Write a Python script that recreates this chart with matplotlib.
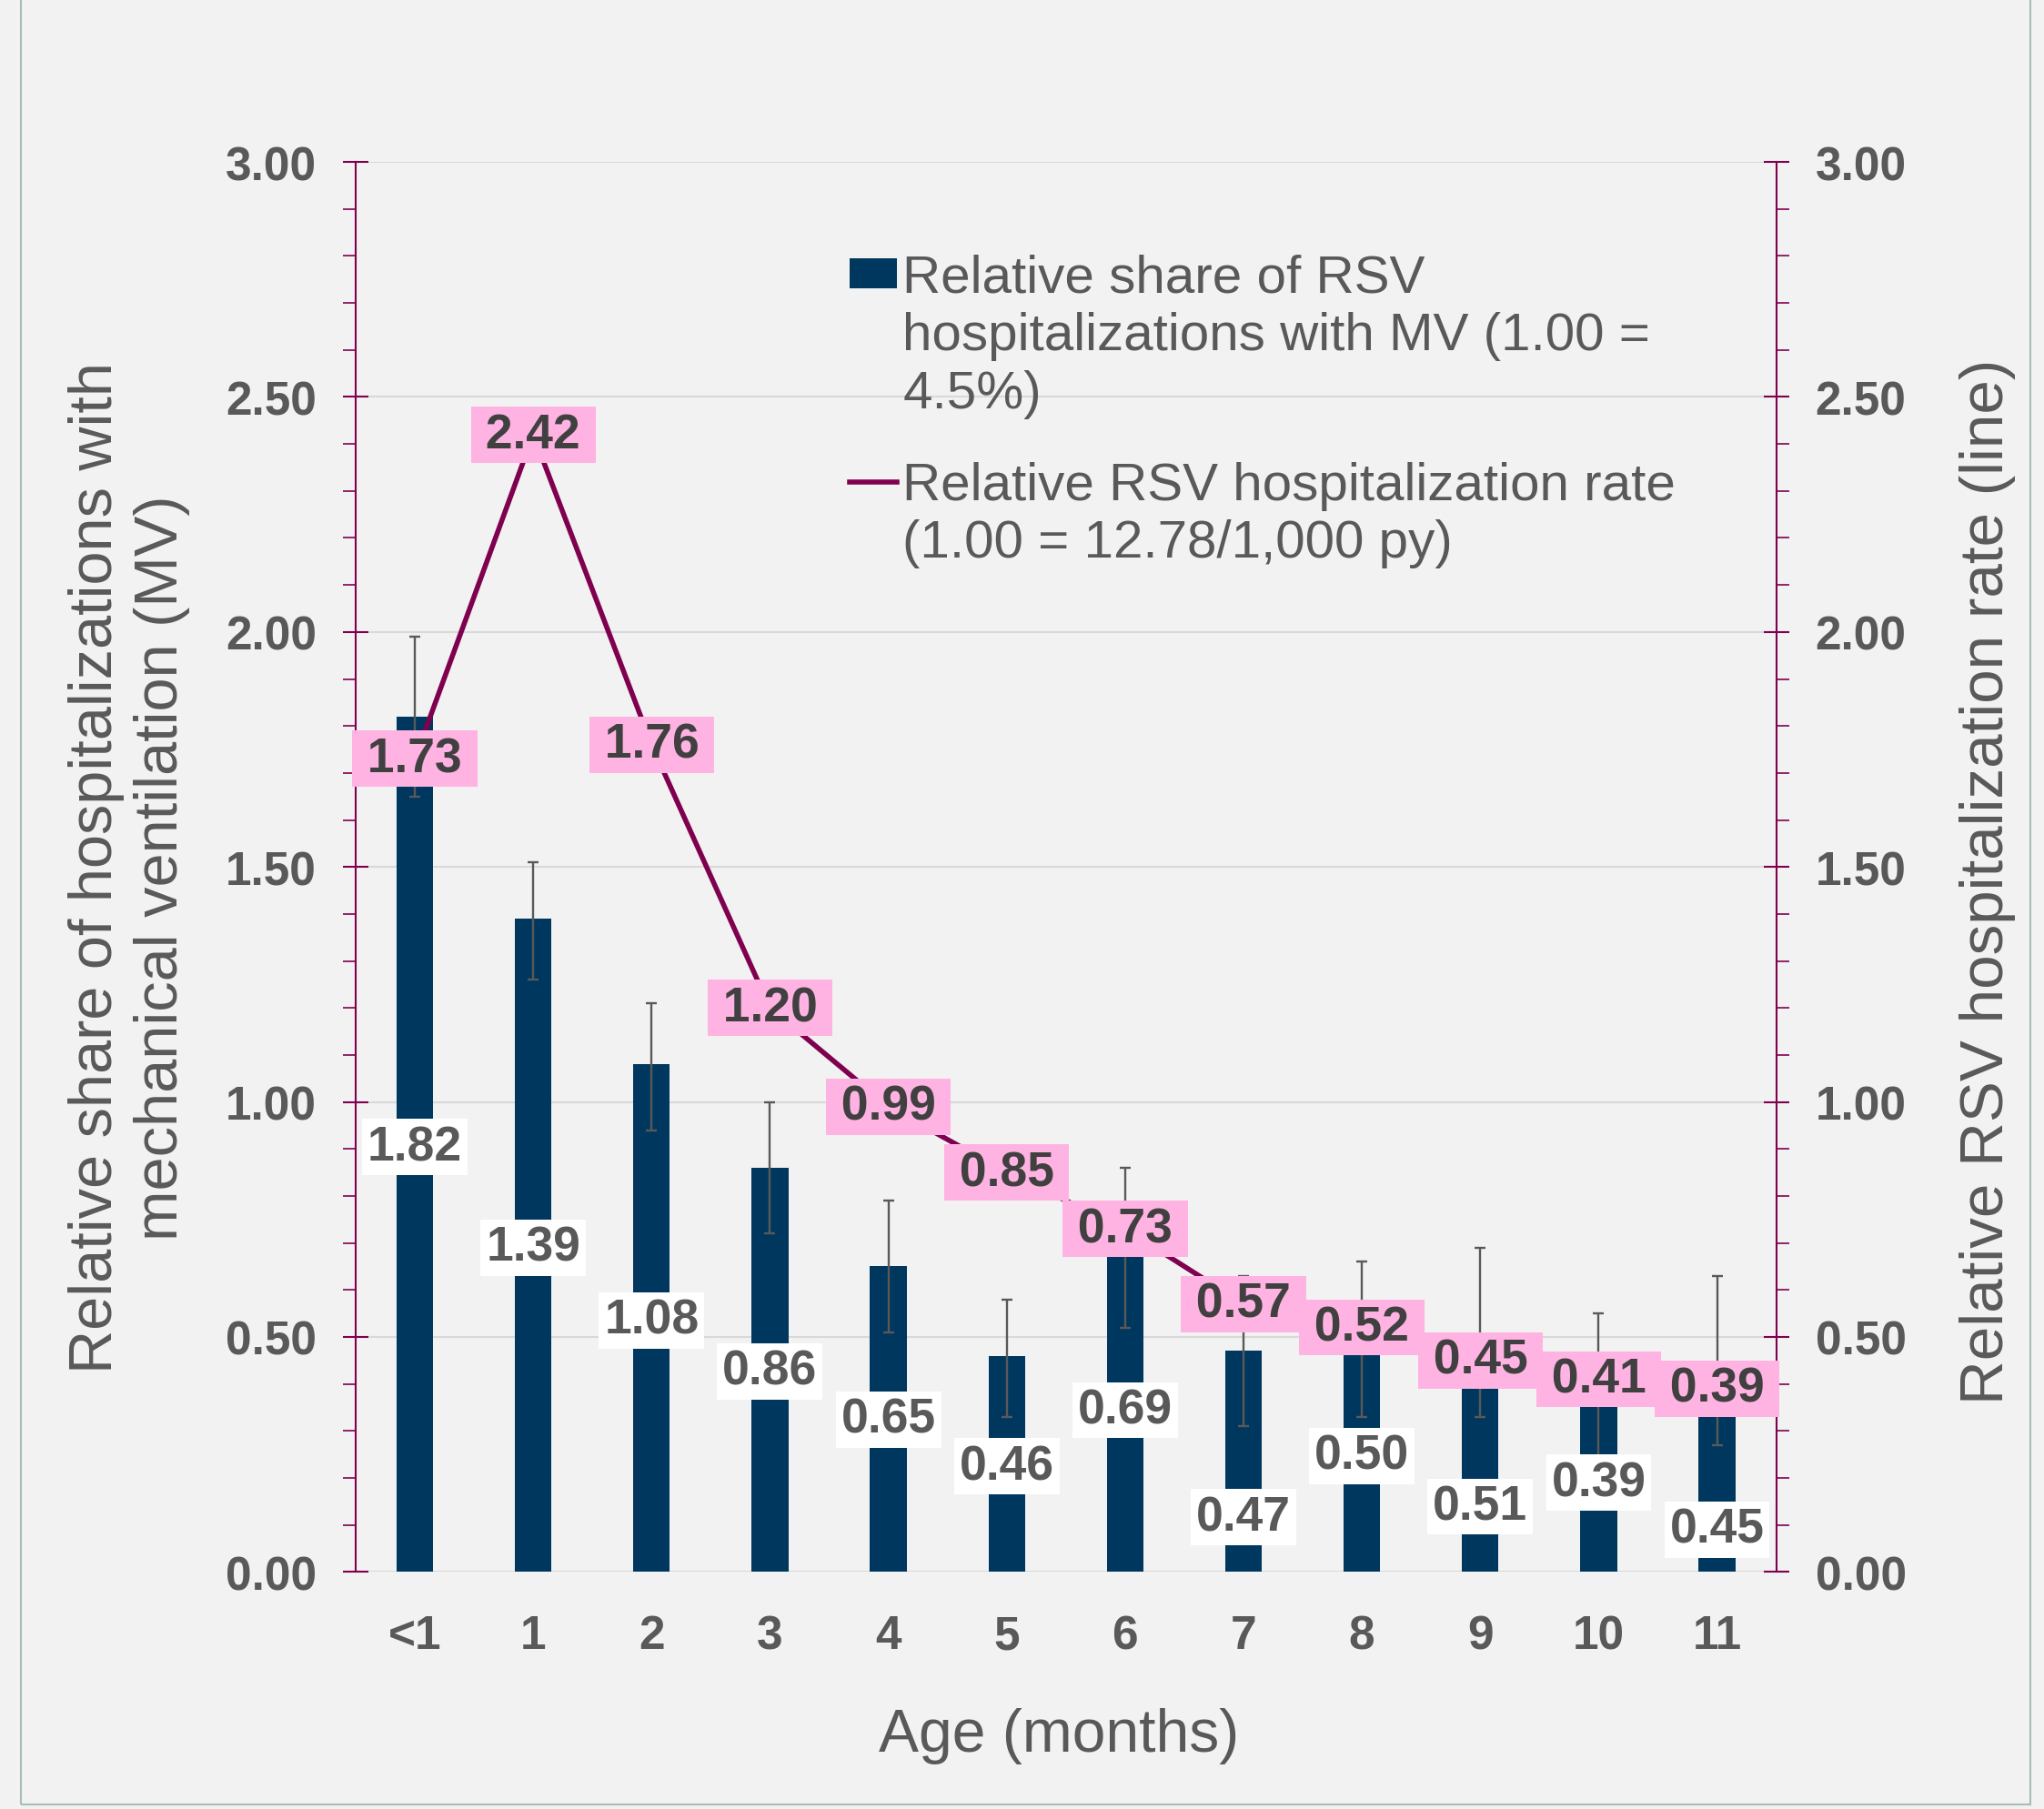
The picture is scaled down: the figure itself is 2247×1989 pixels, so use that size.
import numpy as np
import matplotlib
matplotlib.use('Agg')
import matplotlib.pyplot as plt
from matplotlib.patches import Rectangle
from matplotlib.lines import Line2D
from matplotlib.ticker import MultipleLocator

plt.rcParams['font.family'] = ['Liberation Sans', 'DejaVu Sans']

# data
ages = ['<1', '1', '2', '3', '4', '5', '6', '7', '8', '9', '10', '11']
mv_share = [1.82, 1.39, 1.08, 0.86, 0.65, 0.46, 0.69, 0.47, 0.50, 0.51, 0.39, 0.45]
ci_low = [1.65, 1.26, 0.94, 0.72, 0.51, 0.33, 0.52, 0.31, 0.33, 0.33, 0.23, 0.27]
ci_high = [1.99, 1.51, 1.21, 1.00, 0.79, 0.58, 0.86, 0.63, 0.66, 0.69, 0.55, 0.63]
hosp_rate = [1.73, 2.42, 1.76, 1.20, 0.99, 0.85, 0.73, 0.57, 0.52, 0.45, 0.41, 0.39]

# where the white bar labels sit (some were moved by hand in the original)
bar_label_y = [0.904, 0.69, 0.535, 0.427, 0.324, 0.225, 0.344, 0.116, 0.247, 0.139, 0.19, 0.09]

bg = '#f2f2f2'
navy = '#00375f'
mag = '#800050'
pink = '#ffb3e2'
grey = '#595959'

fig = plt.figure(figsize=(22.47, 19.90), dpi=100, facecolor=bg)
ax = fig.add_axes([0.174, 0.131, 0.695, 0.779])
ax.set_facecolor(bg)
ax2 = ax.twinx()

x = np.arange(len(ages))
bars = ax.bar(x, mv_share, width=0.31, color=navy, zorder=2)
yerr = [np.array(mv_share) - np.array(ci_low), np.array(ci_high) - np.array(mv_share)]
ax.errorbar(x, mv_share, yerr=yerr, fmt='none', ecolor=grey, elinewidth=1.7,
            capsize=4, capthick=1.7, zorder=3)

for xi, v, ly in zip(x, mv_share, bar_label_y):
    ax.text(xi, ly, f'{v:.2f}', ha='center', va='center', fontsize=38.5,
            fontweight='bold', color=grey, zorder=5,
            bbox=dict(boxstyle='square,pad=0.11', fc='white', ec='none'))

line, = ax2.plot(x, hosp_rate, color=mag, lw=4, zorder=2)
for xi, v in zip(x, hosp_rate):
    ax2.text(xi, v, '\u2009' + f'{v:.2f}' + '\u2009', ha='center', va='center',
             fontsize=38.5, fontweight='bold', color='#404040', zorder=5,
             bbox=dict(boxstyle='square,pad=0.11', fc=pink, ec='none'))

for a in (ax, ax2):
    a.set_xlim(-0.5, 11.5)
    a.set_ylim(0, 3)
    a.yaxis.set_major_locator(MultipleLocator(0.5))
    a.yaxis.set_minor_locator(MultipleLocator(0.1))
    a.set_yticks(np.arange(0, 3.01, 0.5), labels=[f'{t:.2f}' for t in np.arange(0, 3.01, 0.5)],
                 fontweight='bold')
    a.tick_params(axis='y', which='major', direction='inout', length=20, width=1.5,
                  color=mag, labelsize=37, labelcolor=grey, pad=21)
    a.tick_params(axis='y', which='minor', direction='out', length=10, width=1.2, color=mag)
    for s in a.spines.values():
        s.set_visible(False)

ax.spines['left'].set_visible(True)
ax.spines['left'].set_color(mag)
ax.spines['left'].set_linewidth(1.5)
ax2.spines['right'].set_visible(True)
ax2.spines['right'].set_color(mag)
ax2.spines['right'].set_linewidth(1.5)

ax.set_xticks(x, labels=ages, fontweight='bold')
ax.tick_params(axis='x', length=0, labelsize=37, labelcolor=grey, pad=33)
ax2.tick_params(axis='x', length=0)

ax.yaxis.grid(True, which='major', color='#d9d9d9', lw=1.5, zorder=0)
ax.set_axisbelow(True)

fig.text(0.0632, 0.5204, 'Relative share of hospitalizations with\nmechanical ventilation (MV)',
         rotation=90, ha='center', va='center', fontsize=48, color=grey, linespacing=1.2)
fig.text(0.9724, 0.513, 'Relative RSV hospitalization rate (line)',
         rotation=90, ha='center', va='center', fontsize=48.5, color=grey)
fig.text(0.518, 0.0407, 'Age (months)', ha='center', va='center', fontsize=47.5, color=grey)

# legend, one row per text line so the key sits on the first line
blank = Rectangle((0, 0), 1, 1, alpha=0)
leg_kw = dict(frameon=False, fontsize=42, labelcolor=grey, loc='upper left',
              borderpad=0, borderaxespad=0, handlelength=0.9, handleheight=0.5,
              handletextpad=0.1, labelspacing=0.16)
leg1 = ax2.legend([bars.patches[0], blank, blank],
                  ['Relative share of RSV', 'hospitalizations with MV (1.00 =', '4.5%)'],
                  bbox_to_anchor=(0.3476, 0.935), **leg_kw)
ax2.add_artist(leg1)
blank_line = Line2D([], [], alpha=0)
ax2.legend([line, blank_line],
           ['Relative RSV hospitalization rate', '(1.00 = 12.78/1,000 py)'],
           bbox_to_anchor=(0.3476, 0.788), **leg_kw)

fig.patches.append(Rectangle((0.0103, 0.0025), 0.983, 1.2, transform=fig.transFigure,
                             fill=False, ec='#a8bdb5', lw=1.5))

fig.savefig('out.png', dpi=100, facecolor=bg)
